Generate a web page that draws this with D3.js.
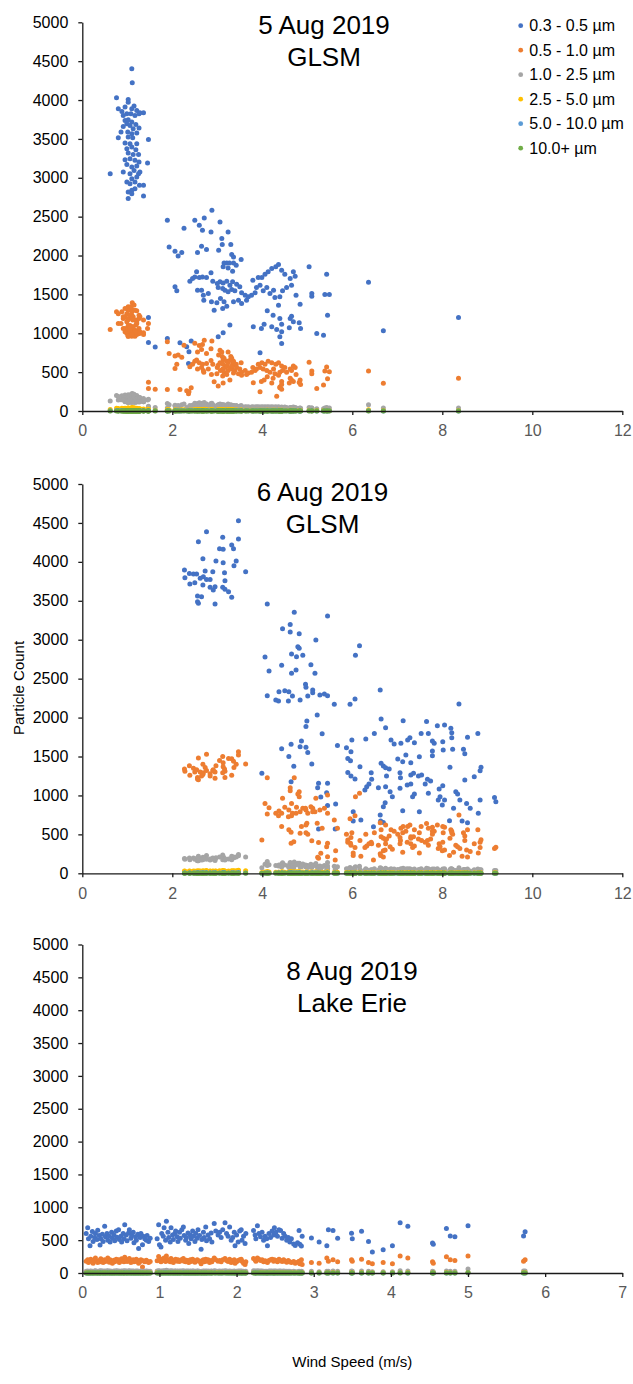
<!DOCTYPE html>
<html>
<head>
<meta charset="utf-8">
<script src="https://cdn.jsdelivr.net/npm/d3@7"></script>
<style>
  body { margin: 0; background: #fff; }
  svg { display: block; font-family: "Liberation Sans", Arial, sans-serif; }
</style>
</head>
<body>
<div id="chart"></div>
<script>
// Particle counts (per size bin) against wind speed, one observation per index

// ---- 5 Aug 2019, GLSM ----
const aug5Wind = [
  1.10,1.11,0.76,1.02,1.02,0.80,0.95,1.15,1.10,1.21,1.28,1.36,0.88,0.91,0.99,1.08,1.17,1.26,0.95,1.02,
  1.10,0.99,1.06,0.91,1.19,1.26,1.13,0.86,1.01,1.10,1.21,0.80,1.02,1.12,1.47,0.95,1.06,1.21,0.99,1.10,
  1.19,1.02,1.13,1.25,0.95,1.06,1.17,1.26,1.45,0.99,1.21,1.10,1.15,1.28,0.91,0.62,1.06,1.25,1.21,1.10,
  0.99,1.17,1.06,1.27,1.36,1.10,1.17,1.02,1.10,1.36,1.02,
  1.47,1.47,1.62,1.89,1.89,1.93,2.06,2.06,2.10,2.13,2.17,2.21,2.26,2.32,2.36,2.37,2.39,2.42,2.45,2.50,
  2.50,2.54,2.56,2.56,2.60,2.60,2.65,2.65,2.67,2.67,2.69,2.70,2.71,2.76,2.76,2.80,2.86,2.86,2.87,2.88,
  2.90,2.93,2.99,3.00,3.02,3.02,3.03,3.06,3.06,3.07,3.10,3.11,3.12,3.12,3.13,3.13,3.13,3.15,3.15,3.17,
  3.21,3.21,3.21,3.24,3.24,3.24,3.27,3.28,3.28,3.30,3.32,3.32,3.34,3.34,3.36,3.36,3.36,3.39,3.42,3.43,
  3.47,3.50,3.53,3.54,3.54,3.62,3.65,3.69,3.76,3.79,3.80,3.84,3.87,3.91,3.95,3.95,3.98,3.99,4.02,4.04,
  4.06,4.10,4.11,4.13,4.17,4.21,4.21,4.24,4.25,4.28,4.30,4.32,4.36,4.36,4.39,4.39,4.39,4.43,4.43,4.43,
  4.43,4.45,4.50,4.54,4.60,4.62,4.62,4.65,4.65,4.69,4.69,4.73,4.75,4.82,4.84,4.85,5.04,5.10,5.10,5.21,
  5.36,5.39,5.43,5.45,5.49,6.36,6.69,8.36
];
const aug5Pm03 = [
  4401,4221,4029,4007,3973,3887,3909,3922,3887,3866,3836,3836,3853,3802,3823,3823,3802,3823,3738,3746,
  3716,3695,3673,3661,3686,3639,3631,3588,3588,3566,3575,3515,3524,3515,3494,3447,3438,3438,3374,3395,
  3361,3318,3301,3301,3232,3245,3224,3202,3190,3172,3151,3138,3095,3074,3074,3053,3053,3053,3010,2988,
  2946,2946,2924,2903,2903,2839,2860,2817,2796,2766,2732,
  1203,882,822,2453,933,2111,2055,1597,1546,1995,878,2038,2350,826,612,762,1670,899,1704,2453,
  1725,1790,2038,1554,2389,1717,2119,1554,2325,1725,1490,1426,2483,2076,1717,1511,2303,1777,1404,2582,
  1670,1297,1391,1640,1588,955,2068,2432,1661,1447,2218,2141,1576,1319,1854,1648,1006,1905,1404,1554,
  1905,1670,1349,2303,1841,1533,1905,1618,1105,2141,2012,1563,1798,1661,1982,1905,1404,1546,1875,1631,
  1426,1597,1948,1520,1383,1490,1426,1469,1490,1683,1083,1520,1588,1717,1618,749,1062,1717,1546,1117,
  1760,1588,1289,1790,1511,1832,1083,1233,1554,1460,1854,1049,1884,1361,1469,1190,955,1811,1117,1019,
  869,1546,1760,1588,1070,1704,1190,1618,1220,1790,1147,1734,1490,1135,1374,1062,1854,1511,1477,998,
  976,1498,1760,1233,1498,1657,1031,1203
];
const aug5Pm05 = [
  1310,1391,1276,1340,1297,1250,1319,1362,1233,1290,1212,1169,1276,1190,1250,1340,1297,1233,1212,1190,
  1276,1147,1233,1212,1169,1190,1212,1126,1169,1190,1147,1126,1100,1169,1126,1062,1100,1126,1040,1083,
  1105,1062,1083,1040,1019,1083,1040,1062,1062,1040,1019,1040,998,1019,1062,1049,998,1000,985,1019,
  998,963,1040,998,985,963,1019,963,985,1006,963,
  370,290,280,891,278,741,707,548,600,720,278,690,845,260,222,248,570,300,600,870,
  640,655,760,540,844,620,790,560,857,600,520,500,909,740,610,540,800,650,470,900,
  600,377,480,560,590,320,720,780,620,520,760,700,540,450,660,600,360,680,500,560,
  640,580,470,760,620,520,650,560,400,700,680,540,600,580,640,620,490,520,600,560,
  480,540,620,500,460,520,470,490,500,560,364,520,540,600,560,248,380,620,540,400,
  600,520,440,640,500,620,360,420,540,480,600,189,620,460,500,308,300,580,380,340,
  280,520,560,500,360,540,420,520,398,580,380,560,470,368,400,340,626,514,480,291,
  334,514,566,415,506,515,356,420
];
const aug5Pm10 = [
  220,225,200,210,190,185,205,215,180,200,175,160,195,170,185,210,190,175,170,165,
  195,150,180,170,160,165,175,145,160,170,150,140,135,165,150,130,140,150,125,145,
  150,130,140,125,120,140,125,135,140,125,120,130,115,125,140,130,115,120,115,125,
  120,110,130,115,120,110,125,110,115,120,110,
  60,50,45,95,40,80,75,65,60,70,35,80,90,45,30,40,70,45,75,100,
  80,85,95,70,105,85,95,75,100,80,70,65,110,90,85,70,95,80,65,100,
  80,55,60,75,70,45,85,90,75,65,85,80,70,60,75,70,45,80,65,70,
  75,70,60,90,75,65,70,65,50,80,75,65,70,65,70,70,60,60,70,65,
  55,60,70,55,55,55,50,55,50,55,40,50,55,55,50,30,40,55,50,40,
  55,50,45,55,50,55,40,45,50,45,55,30,55,45,45,40,35,50,40,35,
  30,45,50,45,35,45,40,45,40,50,40,45,40,35,40,35,45,40,40,30,
  30,40,45,35,40,80,40,40
];
const aug5Pm25 = [
  40,45,35,40,38,32,36,42,30,35,28,25,34,30,32,40,36,30,28,27,
  34,24,30,28,26,27,29,22,26,28,24,22,21,27,24,20,22,24,19,23,
  24,20,22,19,18,22,19,21,22,19,18,20,17,19,22,20,17,18,17,19,
  18,16,20,17,18,16,19,16,17,18,16,
  12,10,9,18,8,15,14,12,11,14,7,15,17,9,6,8,13,9,14,19,
  15,16,18,13,20,16,18,14,19,15,13,12,21,17,16,13,18,15,12,19,
  15,10,11,14,13,9,16,17,14,12,16,15,13,11,14,13,9,15,12,13,
  14,13,11,17,14,12,13,12,10,15,14,12,13,12,13,13,11,11,13,12,
  10,11,13,10,10,10,9,10,9,10,8,9,10,10,9,6,8,10,9,8,
  10,9,9,10,9,10,8,9,9,9,10,6,10,9,9,8,7,9,8,7,
  6,9,9,9,7,9,8,9,8,9,8,9,8,7,8,7,9,8,8,6,
  6,8,9,7,8,15,8,8
];
const aug5Pm50 = [
  5,6,5,5,4,4,5,6,4,5,4,4,5,4,4,5,5,4,4,4,
  5,3,4,4,4,4,4,3,4,4,3,3,3,4,3,3,3,3,3,3,
  3,3,3,3,2,3,3,3,3,3,2,3,2,3,3,3,2,2,2,3,
  2,2,3,2,2,2,3,2,2,2,2,
  2,2,2,3,1,3,3,2,2,3,1,3,3,2,1,1,2,2,2,3,
  2,3,3,2,3,2,3,2,3,2,2,2,3,3,2,2,3,2,2,3,
  2,2,2,2,2,1,3,3,2,2,3,3,2,2,2,2,1,2,2,2,
  2,2,2,3,2,2,2,2,1,3,2,2,2,2,2,2,2,2,2,2,
  2,2,2,2,2,2,2,2,2,2,1,2,2,2,2,1,1,2,2,1,
  2,2,1,2,2,2,1,1,2,2,2,1,2,2,2,1,1,2,1,1,
  1,2,2,2,1,2,1,2,1,2,1,2,2,1,1,1,2,2,2,1,
  1,2,2,1,2,3,1,1
];
const aug5Pm100 = [
  2,2,1,2,1,1,1,2,1,1,1,1,1,1,1,2,1,1,1,1,
  1,1,1,1,1,1,1,1,1,1,1,1,1,1,1,1,1,1,1,1,
  1,1,1,1,0,1,1,1,1,1,0,1,0,1,1,1,0,0,0,1,
  0,0,1,0,0,0,1,0,0,0,0,
  0,0,0,1,0,1,1,0,0,1,0,1,1,0,0,0,1,0,1,1,
  1,1,1,0,1,1,1,0,1,1,0,0,1,1,1,0,1,1,0,1,
  1,0,0,1,0,0,1,1,1,0,1,1,0,0,1,0,0,1,0,0,
  1,0,0,1,1,0,1,0,0,1,1,0,1,0,1,1,0,0,1,0,
  0,0,1,0,0,0,0,0,0,1,0,0,1,1,0,0,0,1,0,0,
  1,0,0,1,0,1,0,0,0,0,1,0,1,0,0,0,0,1,0,0,
  0,0,1,0,0,1,0,0,0,1,0,1,0,0,0,0,1,0,0,0,
  0,0,1,0,0,1,0,0
];

// ---- 6 Aug 2019, GLSM ----
const aug6Wind = [
  3.47,2.76,2.58,3.12,3.47,3.05,3.13,3.32,3.36,2.68,2.97,3.13,3.42,3.37,3.63,2.27,2.28,2.47,2.54,2.73,
  2.90,3.16,2.62,2.69,2.76,2.84,2.39,2.50,2.68,2.84,2.95,3.17,3.12,3.17,2.56,2.56,2.58,2.95,3.32,2.38,
  2.91,3.25,2.65,
  4.11,4.71,5.45,4.62,4.45,4.62,4.82,5.19,4.79,4.82,4.65,4.76,4.90,4.06,4.15,4.43,4.75,4.65,5.08,5.17,
  4.96,4.11,4.30,4.36,4.37,4.50,4.59,4.67,4.58,4.84,4.97,5.01,5.12,5.12,5.28,5.38,5.45,5.60,5.22,5.33,
  4.99,4.97,4.64,4.84,4.97,5.01,5.10,4.70,3.99,4.64,5.25,5.45,5.43,5.63,5.25,5.62,5.23,5.30,5.45,4.43,
  4.59,4.87,5.67,
  6.16,6.07,5.95,6.06,6.62,8.37,6.64,7.13,7.65,7.89,8.05,8.19,8.21,8.21,8.79,7.53,7.69,6.74,6.49,6.30,
  6.86,6.93,7.08,7.28,7.23,7.38,7.78,7.82,8.23,8.47,8.50,8.56,8.01,8.02,5.99,5.87,5.97,5.90,5.96,6.17,
  6.64,6.69,6.74,6.82,7.01,7.12,7.19,7.49,7.30,7.78,7.78,8.17,8.86,8.84,8.71,8.50,6.42,6.43,5.90,5.97,
  6.06,6.32,6.37,6.28,6.58,6.74,6.76,6.84,6.89,7.06,7.07,7.06,7.30,7.36,7.47,7.54,7.22,7.30,7.38,7.34,
  7.62,7.67,7.74,7.69,7.93,8.01,7.91,7.95,8.05,8.00,8.30,8.34,8.39,8.54,8.62,8.25,8.84,9.16,9.19,6.69,
  6.73,6.62,6.63,7.12,7.49,6.02,6.02,6.19,6.47,6.69,8.16,8.44,8.56,8.80
];
const aug6Pm03 = [
  4529,4388,4259,4315,4293,4169,4161,4216,4169,4041,4011,3989,4011,3951,3874,3895,3797,3844,3844,3882,
  3874,3861,3788,3810,3775,3775,3716,3733,3703,3673,3681,3758,3673,3647,3561,3489,3467,3459,3544,3852,
  3638,3617,3553,
  3459,3352,3305,3197,3142,3099,3078,2996,2911,2889,2816,2782,2799,2778,2598,2671,2611,2568,2680,2568,
  2427,2281,2225,2213,2332,2345,2332,2277,2213,2225,2388,2277,2354,2320,2290,2303,2281,2170,2033,1793,
  1956,1887,1656,1626,1618,1553,1404,1374,1284,1177,1155,1155,1035,890,569,569,1100,980,870,1600,
  1500,1700,1643,
  2924,2799,2170,2238,2354,2174,1981,1960,1951,1896,1904,1862,1806,1742,1797,1797,1797,1870,1797,1725,
  1712,1660,1669,1742,1712,1677,1699,1669,1592,1592,1536,1746,1690,1583,1712,1613,1562,1476,1446,1369,
  1412,1378,1356,1339,1468,1433,1519,1498,1421,1570,1510,1361,1361,1318,1241,1198,1292,1207,1296,1249,
  1211,1112,1147,1070,1100,1112,1249,1048,984,1292,1228,1091,1262,1284,1249,1262,1134,1147,1018,984,
  1147,1207,1185,1027,1082,1125,941,984,941,877,1048,1018,941,898,834,834,941,975,920,855,
  907,748,671,804,791,791,671,684,599,654,676,671,650,770
];
const aug6Pm05 = [
  1560,1530,1480,1500,1520,1450,1420,1470,1440,1400,1380,1370,1400,1360,1404,1340,1310,1350,1330,1360,
  1320,1340,1300,1290,1320,1280,1260,1300,1270,1250,1300,1310,1292,1232,1230,1210,1200,1220,1260,1380,
  1330,1476,1250,
  1228,1228,1005,1099,963,1061,1048,963,1018,984,898,847,834,898,843,770,770,740,855,791,
  834,761,770,740,800,847,813,770,726,791,813,770,834,791,813,834,770,684,642,577,
  642,620,526,513,522,500,419,406,427,385,397,385,342,290,192,171,205,256,213,600,
  560,600,577,
  1027,984,700,740,650,748,560,600,640,620,590,560,540,520,560,600,580,620,520,500,
  560,540,580,620,600,560,590,540,500,520,480,560,600,520,522,500,460,427,385,420,
  470,450,430,480,500,520,540,520,470,540,500,450,430,400,380,420,400,380,400,360,
  330,350,380,330,360,380,440,340,310,460,420,380,450,470,440,420,400,380,350,330,
  400,420,440,360,380,400,320,340,300,290,360,340,320,300,280,270,330,320,333,290,
  300,250,230,270,260,260,230,220,171,210,230,220,210,260
];
const aug6Pm10 = [
  240,230,220,235,225,210,215,220,210,205,200,195,210,200,210,190,180,195,190,200,
  195,190,185,190,180,185,175,180,175,170,180,185,175,170,165,160,160,165,175,195,
  180,185,170,
  150,145,140,140,135,130,130,125,130,125,120,120,120,115,110,115,110,110,115,110,
  105,100,100,95,105,105,100,100,95,95,100,100,100,95,95,100,95,90,90,85,
  90,85,80,80,80,75,75,70,70,65,65,65,60,55,45,45,60,55,55,80,
  75,85,85,
  90,85,75,75,70,70,65,65,65,60,60,60,55,55,55,60,60,65,60,60,
  60,55,60,60,60,55,55,55,50,50,50,55,55,50,60,60,55,55,50,50,
  50,50,50,50,50,50,55,50,50,50,50,45,45,45,45,45,45,45,45,45,
  40,40,40,40,40,40,45,40,40,45,45,40,45,45,45,45,40,40,40,35,
  40,40,40,35,35,40,35,35,35,35,35,35,35,35,30,30,35,35,35,35,
  35,30,30,30,30,30,30,30,25,30,30,30,30,30
];
const aug6Pm25 = [
  38,36,34,36,35,32,33,34,32,31,30,30,32,30,32,29,27,30,29,31,
  30,29,28,29,27,28,26,27,26,25,27,28,26,25,25,24,24,25,26,29,
  27,28,25,
  22,21,20,20,19,19,19,18,19,18,17,17,17,16,16,16,16,16,16,16,
  15,15,15,14,15,15,15,15,14,14,15,15,15,14,14,15,14,13,13,12,
  13,12,12,12,12,11,11,10,10,10,10,10,9,8,7,7,9,8,8,12,
  11,12,12,
  13,12,11,11,10,10,9,9,9,9,9,9,8,8,8,9,9,9,9,9,
  9,8,9,9,9,8,8,8,8,8,8,8,9,8,9,9,8,8,7,7,
  7,7,7,7,8,8,8,8,7,8,8,7,7,7,7,7,7,7,7,6,
  6,6,6,6,6,6,7,6,6,7,7,6,7,7,7,7,6,6,6,6,
  6,7,7,6,6,6,6,6,6,6,6,6,6,6,5,5,6,6,6,5,
  5,5,5,5,5,5,5,5,4,5,5,5,5,5
];
const aug6Pm50 = [
  6,6,5,6,6,5,5,5,5,5,5,5,5,5,5,5,4,5,5,5,
  5,5,4,5,4,4,4,4,4,4,4,5,4,4,4,4,4,4,4,5,
  4,5,4,
  4,4,4,4,3,3,3,3,3,3,3,3,3,3,3,3,3,3,3,3,
  3,3,3,3,3,3,3,3,3,3,3,3,3,3,3,3,3,3,3,2,
  3,2,2,2,2,2,2,2,2,2,2,2,2,2,1,1,2,2,2,2,
  2,2,2,
  3,3,2,2,2,2,2,2,2,2,2,2,2,2,2,2,2,2,2,2,
  2,2,2,2,2,2,2,2,2,2,2,2,2,2,2,2,2,2,2,1,
  2,2,1,2,2,2,2,2,1,2,2,1,1,1,1,1,1,1,1,1,
  1,1,1,1,1,1,1,1,1,1,1,1,1,1,1,1,1,1,1,1,
  1,1,1,1,1,1,1,1,1,1,1,1,1,1,1,1,1,1,1,1,
  1,1,1,1,1,1,1,1,1,1,1,1,1,1
];
const aug6Pm100 = [
  2,2,1,2,2,1,1,1,1,1,1,1,1,1,1,1,1,1,1,1,
  1,1,1,1,1,1,1,1,1,1,1,1,1,1,1,1,1,1,1,1,
  1,1,1,
  1,1,1,1,1,1,1,1,1,1,1,1,1,1,1,1,1,1,1,1,
  1,1,1,1,1,1,1,1,1,1,0,1,1,1,1,1,1,0,0,0,
  1,0,0,0,0,0,0,0,0,0,0,0,0,0,0,0,0,0,0,1,
  0,1,1,
  1,1,1,1,1,1,1,1,1,1,0,1,1,0,1,1,0,1,0,1,
  0,1,0,1,0,1,0,1,0,0,1,0,1,0,1,0,1,0,0,0,
  1,0,0,0,1,0,1,0,0,1,0,0,1,0,0,0,0,1,0,0,
  0,0,0,1,0,0,0,0,0,0,1,0,0,0,0,0,0,0,1,0,
  0,0,0,0,0,1,0,0,0,0,0,0,0,0,0,0,0,0,0,0,
  0,0,0,0,0,0,0,0,0,0,0,0,0,0
];

// ---- 8 Aug 2019, Lake Erie ----
const aug8Wind = [
  0.05,0.07,0.08,0.10,0.11,0.13,0.14,0.16,0.17,0.19,0.20,0.22,0.23,0.24,0.26,0.27,0.29,0.30,0.32,0.33,
  0.35,0.36,0.38,0.39,0.41,0.42,0.44,0.45,0.47,0.48,0.50,0.51,0.53,0.54,0.55,0.57,0.58,0.60,0.61,0.63,
  0.64,0.66,0.67,0.69,0.70,0.72,0.73,0.75,0.76,0.78,0.79,0.81,0.83,0.84,0.86,0.88,
  0.97,0.99,1.00,1.02,1.03,1.05,1.06,1.08,1.09,1.11,1.12,1.14,1.15,1.17,1.18,1.20,1.21,1.23,1.24,1.26,
  1.27,1.29,1.31,1.32,1.34,1.35,1.37,1.38,1.40,1.41,1.43,1.44,1.46,1.47,1.49,1.50,1.52,1.54,1.55,1.57,
  1.58,1.60,1.61,1.63,1.65,1.67,1.68,1.71,1.73,1.76,1.78,1.80,1.82,1.85,1.87,1.89,1.91,1.93,1.95,1.97,
  1.98,2.00,2.02,2.04,2.06,2.07,2.09,2.11,2.12,
  2.22,2.24,2.25,2.27,2.29,2.31,2.33,2.35,2.37,2.39,2.40,2.42,2.44,2.46,2.48,2.49,2.51,2.53,2.55,2.57,
  2.59,2.61,2.63,2.65,2.67,2.69,2.71,2.74,2.76,2.79,2.81,2.82,2.84,2.85,
  2.97,3.07,3.17,3.19,3.25,3.31,3.49,3.50,3.62,3.71,3.76,3.90,4.02,4.12,4.22,4.54,4.55,4.72,4.77,4.83,
  5.00,5.72,5.74
];
const aug8Pm03 = [
  600,690,520,415,560,630,480,540,600,510,650,570,428,520,590,480,712,550,600,500,
  560,470,620,530,580,490,640,545,657,510,560,470,600,520,733,580,490,610,660,530,
  570,620,460,550,500,590,373,540,600,430,560,520,500,570,480,530,
  520,733,430,394,600,560,690,500,788,620,540,470,690,580,510,600,640,550,480,620,
  530,660,699,570,500,540,610,450,580,520,640,560,480,600,530,660,570,360,510,620,
  540,699,490,580,520,610,470,754,640,580,620,540,660,763,600,560,699,500,540,620,
  415,580,470,640,657,500,560,450,600,
  648,580,520,720,600,550,620,500,560,521,415,600,540,640,580,690,620,560,660,648,
  530,600,560,500,540,470,520,440,420,460,648,436,410,560,
  534,470,415,657,648,530,606,521,636,479,318,352,415,763,712,458,436,678,564,551,
  720,564,627
];
const aug8Pm05 = [
  180,200,160,190,210,170,150,200,230,180,160,190,170,215,185,160,200,175,190,230,
  165,200,180,150,195,170,210,185,200,160,180,215,190,170,240,200,175,185,220,160,
  190,200,170,180,210,190,150,175,200,90,185,170,195,180,160,175,
  185,250,200,170,210,190,230,175,260,200,185,170,220,195,160,190,210,180,200,175,
  190,205,220,180,170,195,185,160,200,175,210,190,165,180,200,190,175,140,185,200,
  170,210,180,200,160,190,170,230,200,180,190,170,200,220,190,175,210,160,185,200,
  150,170,190,200,210,180,150,130,170,
  220,200,180,230,210,190,200,170,185,175,160,190,200,210,180,200,190,170,210,190,
  175,200,180,165,190,170,160,175,150,165,180,140,200,130,
  160,150,230,180,200,170,200,180,210,160,140,161,140,258,230,170,150,246,203,190,
  258,180,203
];
const aug8Pm10 = [
  25,30,20,25,30,25,20,30,35,25,20,30,25,35,30,25,30,25,30,35,
  25,30,25,20,30,25,35,30,30,25,25,30,30,25,35,30,25,30,35,25,
  30,30,25,25,30,30,20,25,30,20,25,25,30,25,25,25,
  30,35,30,25,30,30,35,25,40,30,30,25,35,30,25,30,30,25,30,25,
  30,30,35,25,25,30,30,25,30,25,30,30,25,25,30,30,25,20,25,30,
  25,30,25,30,25,30,25,35,30,25,30,25,30,35,30,25,30,25,25,30,
  20,25,30,30,30,25,25,20,25,
  35,30,25,35,30,30,30,25,25,25,20,30,30,30,25,30,30,25,30,30,
  25,30,25,25,25,25,20,25,20,20,25,20,25,20,
  25,20,25,25,30,25,30,25,30,25,20,20,20,35,30,25,20,30,25,25,
  60,30,30
];
const aug8Pm25 = [
  5,6,4,5,6,5,4,6,7,5,4,6,5,7,6,5,6,5,6,7,
  5,6,5,4,6,5,7,6,6,5,5,6,6,5,7,6,5,6,7,5,
  6,6,5,5,6,6,4,5,6,3,5,5,6,5,5,5,
  6,7,6,5,6,6,7,5,8,6,6,5,7,6,5,6,6,5,6,5,
  6,6,7,5,5,6,6,5,6,5,6,6,5,5,6,6,5,4,5,6,
  5,6,5,6,5,6,5,7,6,5,6,5,6,7,6,5,6,5,5,6,
  4,5,6,6,6,5,5,4,5,
  7,6,5,7,6,6,6,5,5,5,4,6,6,6,5,6,6,5,6,6,
  5,6,5,5,5,5,4,5,4,4,5,4,5,4,
  5,4,5,5,6,5,6,5,6,5,4,4,4,7,6,5,4,6,5,5,
  9,6,6
];
const aug8Pm50 = [
  1,1,1,1,1,1,1,1,2,1,1,1,1,2,1,1,1,1,1,2,
  1,1,1,1,1,1,2,1,1,1,1,1,1,1,2,1,1,1,2,1,
  1,1,1,1,1,1,0,1,1,0,1,1,1,1,1,1,
  1,2,1,1,1,1,2,1,2,1,1,1,2,1,1,1,1,1,1,1,
  1,1,2,1,1,1,1,1,1,1,1,1,1,1,1,1,1,0,1,1,
  1,1,1,1,1,1,1,2,1,1,1,1,1,2,1,1,1,1,1,1,
  0,1,1,1,1,1,1,0,1,
  2,1,1,2,1,1,1,1,1,1,0,1,1,1,1,1,1,1,1,1,
  1,1,1,1,1,1,0,1,0,0,1,0,1,0,
  1,1,1,1,1,1,1,1,1,1,0,0,0,2,1,1,0,1,1,1,
  2,1,1
];
const aug8Pm100 = [
  0,1,0,0,1,0,0,1,1,0,0,1,0,1,1,0,1,0,1,1,
  0,1,0,0,1,0,1,1,1,0,0,1,1,0,1,1,0,1,1,0,
  1,1,0,0,1,1,0,0,1,0,0,0,1,0,0,0,
  1,1,1,0,1,1,1,0,1,1,1,0,1,1,0,1,1,0,1,0,
  1,1,1,0,0,1,1,0,1,0,1,1,0,0,1,1,0,0,0,1,
  0,1,0,1,0,1,0,1,1,0,1,0,1,1,1,0,1,0,0,1,
  0,0,1,1,1,0,0,0,0,
  1,1,0,1,1,1,1,0,0,0,0,1,1,1,0,1,1,0,1,1,
  0,1,0,0,0,0,0,0,0,0,0,0,0,0,
  0,0,0,1,1,0,1,0,1,0,0,0,0,1,1,0,0,1,0,0,
  2,1,1
];

const sizeBins = ["0.3 - 0.5 µm", "0.5 - 1.0 µm", "1.0 - 2.5 µm", "2.5 - 5.0 µm", "5.0 - 10.0 µm", "10.0+ µm"];
const binColors = ["#4472C4", "#ED7D31", "#A5A5A5", "#FFC000", "#5B9BD5", "#70AD47"];
const countTicks = [0, 500, 1000, 1500, 2000, 2500, 3000, 3500, 4000, 4500, 5000];
const glsmWindTicks = [0, 2, 4, 6, 8, 10, 12];
const erieWindTicks = [0, 1, 2, 3, 4, 5, 6, 7];

const panels = [
  { title: ["5 Aug 2019", "GLSM"], wind: aug5Wind,
    counts: [aug5Pm03, aug5Pm05, aug5Pm10, aug5Pm25, aug5Pm50, aug5Pm100],
    windTicks: glsmWindTicks, top: 22.3, bottom: 411, titleX: 324, titleY: 33.5 },
  { title: ["6 Aug 2019", "GLSM"], wind: aug6Wind,
    counts: [aug6Pm03, aug6Pm05, aug6Pm10, aug6Pm25, aug6Pm50, aug6Pm100],
    windTicks: glsmWindTicks, top: 484, bottom: 873.3, titleX: 322.5, titleY: 500.7 },
  { title: ["8 Aug 2019", "Lake Erie"], wind: aug8Wind,
    counts: [aug8Pm03, aug8Pm05, aug8Pm10, aug8Pm25, aug8Pm50, aug8Pm100],
    windTicks: erieWindTicks, top: 944.5, bottom: 1273, titleX: 352, titleY: 980 }
];

const [w, h] = [633, 1384];
const [left, right] = [82.3, 622.3];
const axisColor = "#1a1a1a";
const plainNumber = d3.format("d");

const svg = d3.select("#chart")
  .append("svg")
  .attr("width", w)
  .attr("height", h);

panels.forEach(p => {
  const x = d3.scaleLinear()
    .domain([0, d3.max(p.windTicks)])
    .range([left, right]);
  const y = d3.scaleLinear()
    .domain([0, 5000])
    .range([p.bottom, p.top]);

  const g = svg.append("g");

  // points: one layer per size bin, later bins drawn on top
  p.counts.forEach((vals, s) => {
    g.append("g")
      .selectAll("circle")
      .data(p.wind.map((ws, i) => [ws, vals[i]]).filter(d => d[1] !== undefined))
      .join("circle")
      .attr("cx", d => x(d[0]))
      .attr("cy", d => y(d[1]))
      .attr("r", 2.5)
      .attr("fill", binColors[s]);
  });

  // y axis
  const yAxis = g.append("g")
    .attr("transform", `translate(${left},0)`)
    .call(d3.axisLeft(y).tickValues(countTicks).tickFormat(plainNumber)
      .tickSize(4).tickSizeOuter(0).tickPadding(10));
  yAxis.selectAll("text").attr("fill", "#000").style("font-size", "16px");

  // x axis
  const xAxis = g.append("g")
    .attr("transform", `translate(0,${p.bottom})`)
    .call(d3.axisBottom(x).tickValues(p.windTicks).tickFormat(plainNumber)
      .tickSize(4).tickSizeOuter(0).tickPadding(10));
  xAxis.selectAll("text").attr("fill", "#595959").style("font-size", "16px");

  [yAxis, xAxis].forEach(a => {
    a.attr("font-family", null);
    a.select(".domain").attr("stroke", axisColor).attr("stroke-width", 1.3);
    a.selectAll(".tick line").attr("stroke", axisColor).attr("stroke-width", 1.3);
  });

  // title, two lines
  g.append("g")
    .selectAll("text")
    .data(p.title)
    .join("text")
    .attr("x", p.titleX)
    .attr("y", (d, i) => p.titleY + i * 32)
    .attr("text-anchor", "middle")
    .attr("fill", "#000")
    .style("font-size", "26px")
    .text(d => d);
});

// legend (top panel)
const legend = svg.append("g").attr("class", "legend");
legend.selectAll("circle")
  .data(sizeBins)
  .join("circle")
  .attr("cx", 520.7)
  .attr("cy", (d, i) => 25.7 + i * 24.5)
  .attr("r", 2.4)
  .attr("fill", (d, i) => binColors[i]);
legend.selectAll("text")
  .data(sizeBins)
  .join("text")
  .attr("x", 529.3)
  .attr("y", (d, i) => 25.7 + i * 24.5)
  .attr("dy", "0.35em")
  .attr("fill", "#000")
  .style("font-size", "16px")
  .text(d => d);

// axis titles
svg.append("text")
  .attr("transform", "translate(23.5,688) rotate(-90)")
  .attr("text-anchor", "middle")
  .attr("fill", "#000")
  .style("font-size", "15px")
  .text("Particle Count");

svg.append("text")
  .attr("x", (left + right) / 2)
  .attr("y", 1367)
  .attr("text-anchor", "middle")
  .attr("fill", "#000")
  .style("font-size", "15px")
  .text("Wind Speed (m/s)");
</script>
</body>
</html>
